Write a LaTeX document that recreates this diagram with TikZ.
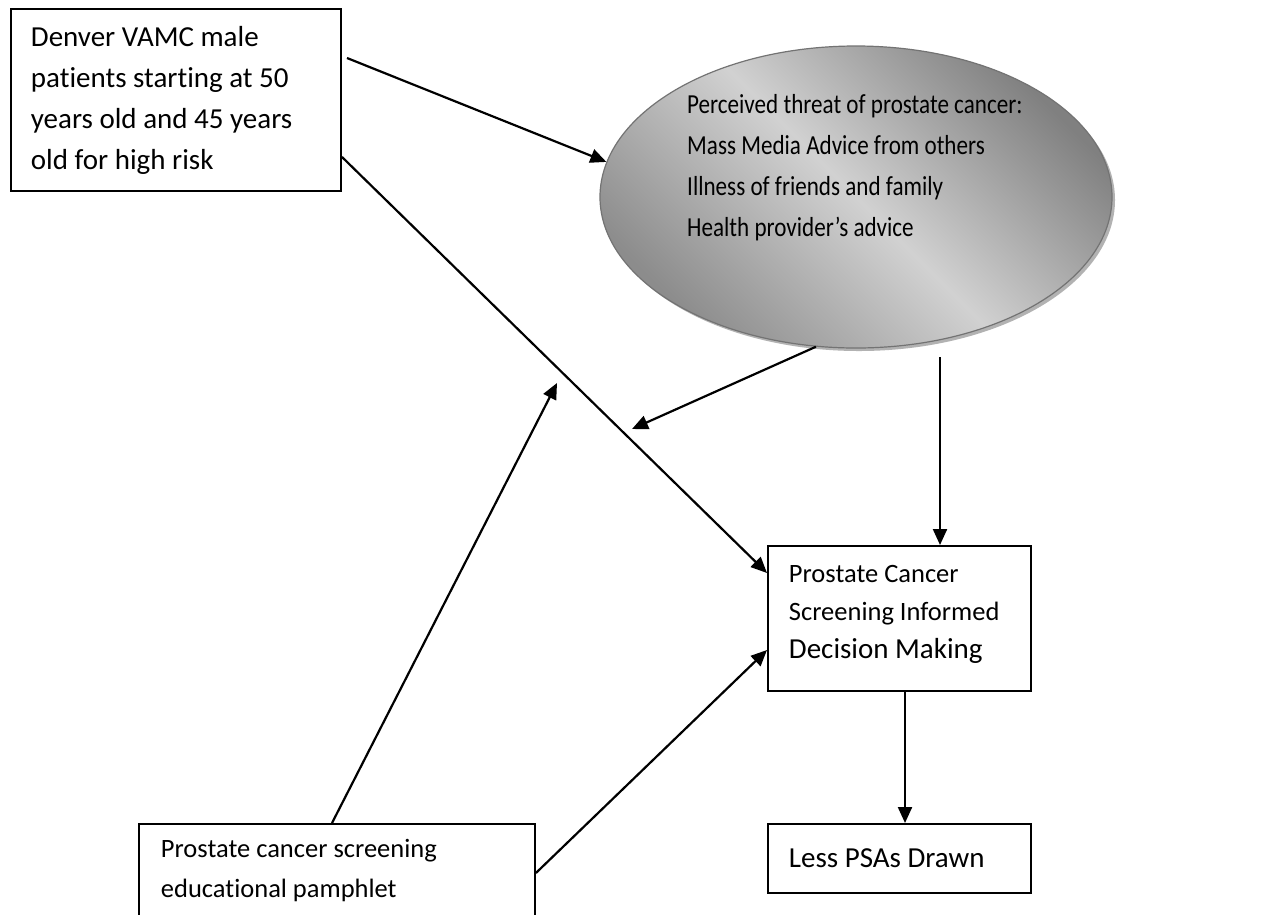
\documentclass[tikz,border=0pt]{standalone}
\usepackage{fontspec}
\setmainfont{Carlito}[Ligatures={NoCommon}]
\newfontfamily\condfont{Carlito}[FakeStretch=0.84,Ligatures={NoCommon}]
\usetikzlibrary{arrows.meta,calc,shapes.geometric,shadows}
\begin{document}
\begin{tikzpicture}[x=1pt,y=-1pt,
  box/.style={draw=black, line width=1.9pt, rectangle, anchor=north west, align=flush left, inner ysep=0pt},
  conn/.style={line width=2.2pt},
  arr/.style={conn, -{Triangle[length=16pt,width=14pt]}},
  bubble/.style={ellipse, inner sep=0pt, draw=black!55, line width=1.2pt,
    top color=black!50, bottom color=black!45, middle color=black!18, shading angle=-45,
    drop shadow={shadow xshift=3pt,shadow yshift=-3pt,fill=black!30,opacity=1}},
]
\useasboundingbox (0,0) rectangle (1265,914);
\fill[white] (0,0) rectangle (1265,914);

\node[box, minimum width=330pt, minimum height=182pt, text width=290pt, inner xsep=20pt,
  font=\fontsize{29}{41}\selectfont] (box1) at (10,8)
  {Denver VAMC male\\patients starting at 50\\years old and 45 years\\old for high risk};

\node[bubble, minimum width=512pt, minimum height=302pt] (ell) at (856,197) {};
\node[anchor=west, align=flush left, inner sep=0pt, font=\condfont\fontsize{27.5}{41}\selectfont] (elltext) at (687,168)
  {Perceived threat of prostate cancer:\\Mass Media Advice from others\\Illness of friends and family\\Health provider’s advice};

\node[box, minimum width=263pt, minimum height=145pt, text width=221pt, inner xsep=21pt,
  font=\fontsize{26.5}{38}\selectfont] (box3) at (767,545)
  {Prostate Cancer\\Screening Informed\\{\fontsize{29}{38}\selectfont Decision Making}\\[-24pt]\mbox{}};

\node[box, minimum width=263pt, minimum height=69pt, text width=221pt, inner xsep=21pt,
  font=\fontsize{29}{38}\selectfont] (less) at (767,823) {Less PSAs Drawn};

\node[box, minimum width=396pt, minimum height=94pt, text width=352pt, inner xsep=22pt,
  font=\fontsize{26.5}{40}\selectfont] (pam) at (138,823) {Prostate cancer screening\\educational pamphlet};

\coordinate (a1s) at (347,58);
\coordinate (t1) at (632,429);
\coordinate (e2) at (940,357);
\coordinate (t2) at (557,383);

\draw[arr] (a1s) -- (ell.172);
\draw[arr] ($(box1.south east)+(0,-35)$) -- ($(box3.north west)+(0,28)$);
\draw[arr] (ell.255) -- (t1);
\draw[arr] (e2) -- (e2 |- box3.north);
\draw[arr] ($(box3.south west)+(138,0)$) -- ($(less.north west)+(138,0)$);
\draw[arr] ($(pam.north west)+(194,0)$) -- (t2);
\draw[arr] ($(pam.north east)+(0,50)$) -- ($(box3.north west)+(0,105)$);
\end{tikzpicture}
\end{document}
